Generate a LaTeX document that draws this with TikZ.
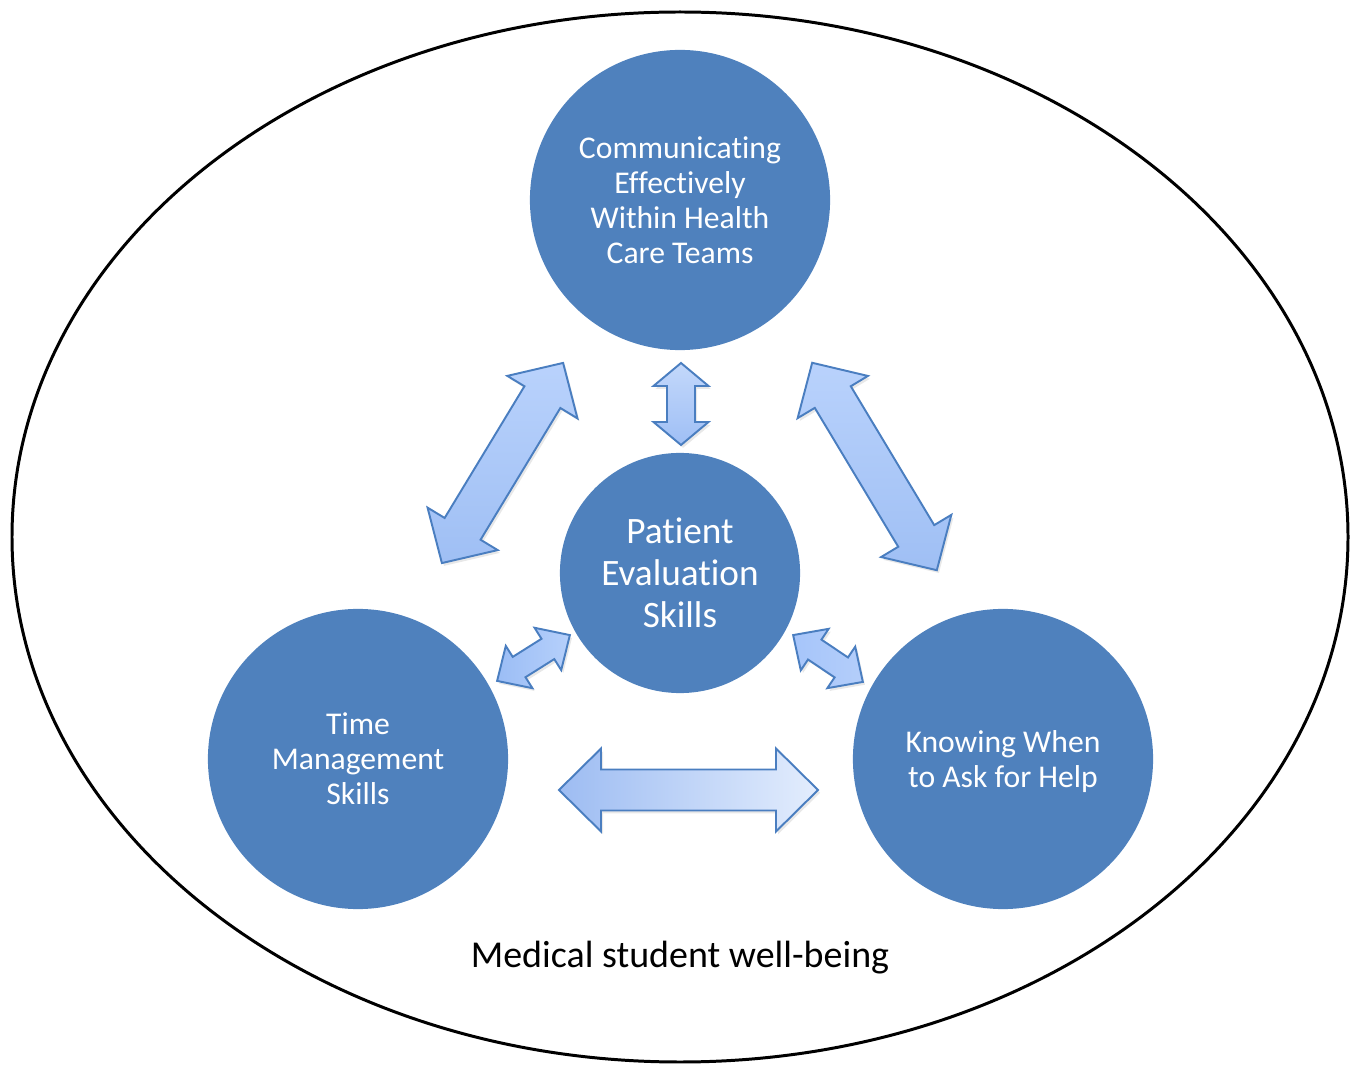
\documentclass[tikz,border=0pt]{standalone}
\usepackage{fontspec}
\setmainfont[RawFeature={-liga;-clig;-calt;-dlig}]{Carlito}
\usetikzlibrary{shadows}
\definecolor{discblue}{HTML}{4F81BD}
\definecolor{arrline}{HTML}{4A7EC0}
\definecolor{diagtop}{HTML}{B9D2FC}
\definecolor{diagbot}{HTML}{9FBFF4}
\definecolor{verttop}{HTML}{C3D8FB}
\definecolor{vertbot}{HTML}{9FBFF5}
\definecolor{smlA}{HTML}{9BBDF5}
\definecolor{smlB}{HTML}{B6D0FB}
\definecolor{smlC}{HTML}{A6C5FA}
\definecolor{smlD}{HTML}{B4CEFA}
\definecolor{horzL}{HTML}{9DBCF2}
\definecolor{horzR}{HTML}{E3EDFD}
\tikzset{
  disc/.style={circle, fill=discblue, minimum size=3cm, inner sep=0pt,
    text=white, align=center, font=\fontsize{9}{9.96}\selectfont},
  blockarr/.style={draw=arrline, line width=0.55pt, line join=miter,
    drop shadow={opacity=0.18, shadow xshift=0.6pt, shadow yshift=-0.8pt}},
}
% double-headed block arrow: options, centre x, centre y, angle, half length,
% shaft half width, head half width, head length
\newcommand\twoheaded[8]{%
  \draw[blockarr,#1,shift={(#2,#3)},rotate=#4]
    (-#5,0) -- (-#5+#8,#7) -- (-#5+#8,#6) -- (#5-#8,#6) -- (#5-#8,#7)
    -- (#5,0) -- (#5-#8,-#7) -- (#5-#8,-#6) -- (-#5+#8,-#6) -- (-#5+#8,-#7)
    -- cycle;}
\begin{document}
\begin{tikzpicture}[x=0.01cm, y=-0.01cm]
\useasboundingbox (0,0) rectangle (1354,1067);

% outer boundary
\draw[line width=0.85pt] (680,537) ellipse [x radius=668, y radius=525];

% skill discs (kerns keep the letter pairs unligated)
\node[disc] (comm) at (680,200)
  {Communicat\kern0pt ing\\Ef\kern0pt fectively\\Within Health\\Care Teams};
\node[disc, minimum size=2.4cm, font=\fontsize{10.6}{11.9}\selectfont] (eval) at (680,573)
  {Patient\\Evaluation\\Skills};
\node[disc] (time) at (358,759) {Time\\Management\\Skills};
\node[disc] (help) at (1003,759) {};
\node[text=white, align=center, font=\fontsize{9}{9.96}\selectfont] (helptext) at (1003,762)
  {Knowing When\\to Ask for Help};

% links between the discs
\twoheaded{top color=diagtop, bottom color=diagbot}{502.5}{463}{58.8}{117}{21}{41}{40}
\twoheaded{top color=diagtop, bottom color=diagbot}{874.5}{466.5}{-59}{121}{21}{41}{40}
\twoheaded{top color=verttop, bottom color=vertbot}{681}{404}{90}{41}{14}{27.5}{23}
\twoheaded{left color=smlA, right color=smlB}{533.5}{658}{32.2}{43}{12}{25}{26}
\twoheaded{left color=smlC, right color=smlD}{828}{658.5}{-33.9}{42}{12}{25}{26}
\twoheaded{left color=horzL, right color=horzR}{688.5}{790}{0}{129.5}{20.5}{41.5}{42}

% caption
\node[font=\fontsize{10.8}{13}\selectfont] (caption) at (680,958) {Medical student well-being};
\end{tikzpicture}
\end{document}
